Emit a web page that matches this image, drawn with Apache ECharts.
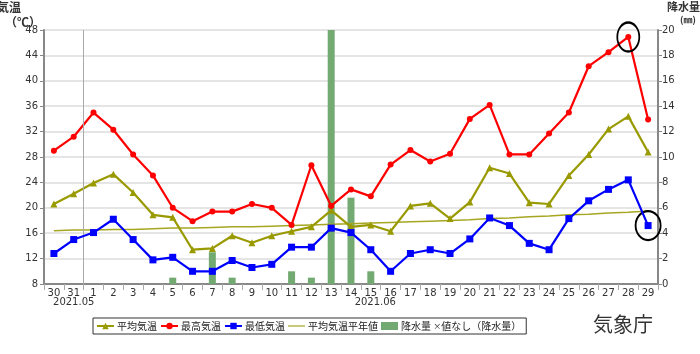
<!doctype html>
<html>
<head>
<meta charset="utf-8">
<title>気温・降水量</title>
<script src="https://cdn.jsdelivr.net/npm/echarts@6/dist/echarts.min.js"></script>
<style>
    body{margin:0;background:#fff;}
    #main{width:700px;height:354px;}
</style>
</head>
<body>
<div id="main"></div>
<script>
    // 日付（5/30〜6/29）
    var days = ['30','31','1','2','3','4','5','6','7','8','9','10','11','12','13','14','15',
                '16','17','18','19','20','21','22','23','24','25','26','27','28','29'];
    // 平均気温
    var avgTemp = [20.6,22.2,23.9,25.3,22.4,18.9,18.5,13.4,13.6,15.6,14.5,15.6,16.3,17.0,19.6,17.0,17.3,
                   16.3,20.3,20.7,18.3,20.9,26.3,25.4,20.8,20.6,25.1,28.4,32.4,34.4,28.8];
    // 最高気温
    var maxTemp = [29.0,31.2,35.0,32.3,28.4,25.1,20.0,17.9,19.4,19.4,20.6,20.0,17.3,26.7,20.3,22.9,21.8,
                   26.8,29.1,27.3,28.5,34.0,36.2,28.4,28.4,31.7,35.0,42.3,44.5,46.9,33.9];
    // 最低気温
    var minTemp = [12.8,15.0,16.1,18.2,15.0,11.8,12.2,10.0,10.0,11.7,10.6,11.1,13.8,13.8,16.8,16.1,13.4,
                   10.0,12.8,13.4,12.8,15.1,18.4,17.2,14.4,13.4,18.3,21.1,22.9,24.4,17.2];
    // 平均気温平年値
    var normalTemp = [16.4,16.5,16.5,16.6,16.6,16.7,16.8,16.8,16.9,17.0,17.0,17.1,17.2,17.3,17.4,17.5,17.6,
                      17.7,17.8,17.9,18.0,18.1,18.3,18.4,18.6,18.7,18.9,19.0,19.2,19.3,19.5];
    // 降水量
    var rain = [0,0,0,0,0,0,0.5,0,2.5,0.5,0,0,1.0,0.5,20.0,6.8,1.0,
                0,0,0,0,0,0,0,0,0,0,0,0,0,0];
    // 月ラベル
    var monthLabels = {'31':'{m|2021.05}','15':'{n|2021.06}'};
    // 月の境目（2日分の後ろ＝6/1の左端）
    var monthBoundary = 2;

    var myChart = echarts.init(document.getElementById('main'));
    var numFont = 'DejaVu Sans';
    var jpFont = 'Noto Sans CJK JP';

    var option = {
        animation:false,
        backgroundColor:'#fff',
        grid:{left:44,right:42,top:30,bottom:70},
        legend:{
            left:93,
            top:318,
            padding:[3,5,3,3],
            borderColor:'#333',
            borderWidth:1,
            itemGap:3,
            itemWidth:17,
            itemHeight:8,
            textStyle:{fontFamily:jpFont,fontSize:10,color:'#222',padding:[0,0,0,-2],
                rich:{x:{fontSize:8,fontFamily:jpFont,color:'#222'}}},
            formatter:function(name){
                if(name==='降水量') return '降水量 {x|×}値なし（降水量）';
                return name;
            },
            data:['平均気温','最高気温','最低気温',
                  {name:'平均気温平年値',icon:'path://M0,0L17,0L17,1.2L0,1.2Z'},
                  {name:'降水量',icon:'rect'}]
        },
        graphic:[
            {type:'text',left:-3,top:1,style:{text:'気温',font:'bold 12px "Noto Sans CJK JP"',fill:'#333'}},
            {type:'text',left:5,top:16,style:{text:'（℃）',font:'bold 12px "Noto Sans CJK JP"',fill:'#333'}},
            {type:'text',left:667,top:1,style:{text:'降水量',font:'bold 11px "Noto Sans CJK JP"',fill:'#333'}},
            {type:'text',left:680,top:15,style:{text:'(㎜)',font:'bold 9px "Noto Sans CJK JP"',fill:'#333'}},
            {type:'text',left:593,top:314,style:{text:'気象庁',font:'20px "Noto Sans CJK JP"',fill:'#333'}}
        ],
        xAxis:[{
            type:'category',
            data:days,
            boundaryGap:true,
            axisLine:{lineStyle:{color:'#888',width:2}},
            axisTick:{show:true,length:6,lineStyle:{color:'#aaa'}},
            axisLabel:{
                interval:0,
                fontFamily:numFont,
                fontSize:10,
                color:'#333',
                margin:5,
                lineHeight:9,
                formatter:function(v){
                    if(monthLabels[v]) return v + '\n' + monthLabels[v];
                    return v;
                },
                rich:{
                    m:{fontFamily:numFont,fontSize:10,color:'#333'},
                    n:{fontFamily:numFont,fontSize:10,color:'#333',padding:[0,0,0,9]}
                }
            },
            splitLine:{show:false}
        },{
            // 境目線用の補助軸（日数単位）
            type:'value',
            min:0,
            max:days.length,
            show:false
        }],
        yAxis:[{
            type:'value',
            min:8,
            max:48,
            interval:4,
            axisLine:{show:true,lineStyle:{color:'#888',width:2}},
            axisTick:{show:true,length:4,lineStyle:{color:'#888'}},
            axisLabel:{fontFamily:numFont,fontSize:10,color:'#333',margin:6},
            splitLine:{lineStyle:{color:'#ddd',width:1.5}}
        },{
            type:'value',
            min:0,
            max:20,
            interval:2,
            position:'right',
            axisLine:{show:true,lineStyle:{color:'#888',width:2}},
            axisTick:{show:true,length:4,lineStyle:{color:'#888'}},
            axisLabel:{fontFamily:numFont,fontSize:10,color:'#333',margin:4},
            splitLine:{show:false}
        }],
        series:[{
            name:'降水量',
            type:'bar',
            yAxisIndex:1,
            data:rain,
            barWidth:7,
            itemStyle:{color:'#72aa72'},
            z:1
        },{
            name:'月境界',
            type:'line',
            xAxisIndex:1,
            data:[],
            z:1,
            markLine:{
                silent:true,
                symbol:'none',
                label:{show:false},
                lineStyle:{color:'#aaa',width:1,type:'solid'},
                data:[{xAxis:monthBoundary}]
            }
        },{
            name:'平均気温平年値',
            type:'line',
            data:normalTemp,
            symbol:'none',
            lineStyle:{color:'#a6a622',width:1.5},
            itemStyle:{color:'#a6a622'},
            z:2
        },{
            name:'平均気温',
            type:'line',
            data:avgTemp,
            symbol:'triangle',
            symbolSize:7,
            lineStyle:{color:'#999900',width:2.2},
            itemStyle:{color:'#999900'},
            z:3
        },{
            name:'最高気温',
            type:'line',
            data:maxTemp,
            symbol:'circle',
            symbolSize:6,
            lineStyle:{color:'#ff0000',width:2.2},
            itemStyle:{color:'#ff0000'},
            z:4,
            markPoint:{
                silent:true,
                label:{show:false},
                data:[{coord:['28',46.9],symbol:'circle',symbolSize:[22,29],
                       itemStyle:{color:'rgba(0,0,0,0)',borderColor:'#000',borderWidth:2}}]
            }
        },{
            name:'最低気温',
            type:'line',
            data:minTemp,
            symbol:'rect',
            symbolSize:7,
            lineStyle:{color:'#0000ff',width:2.2},
            itemStyle:{color:'#0000ff'},
            z:5,
            markPoint:{
                silent:true,
                label:{show:false},
                data:[{coord:['29',17.2],symbol:'circle',symbolSize:[25,29],
                       itemStyle:{color:'rgba(0,0,0,0)',borderColor:'#000',borderWidth:2}}]
            }
        }]
    };

    myChart.setOption(option);
</script>
</body>
</html>
